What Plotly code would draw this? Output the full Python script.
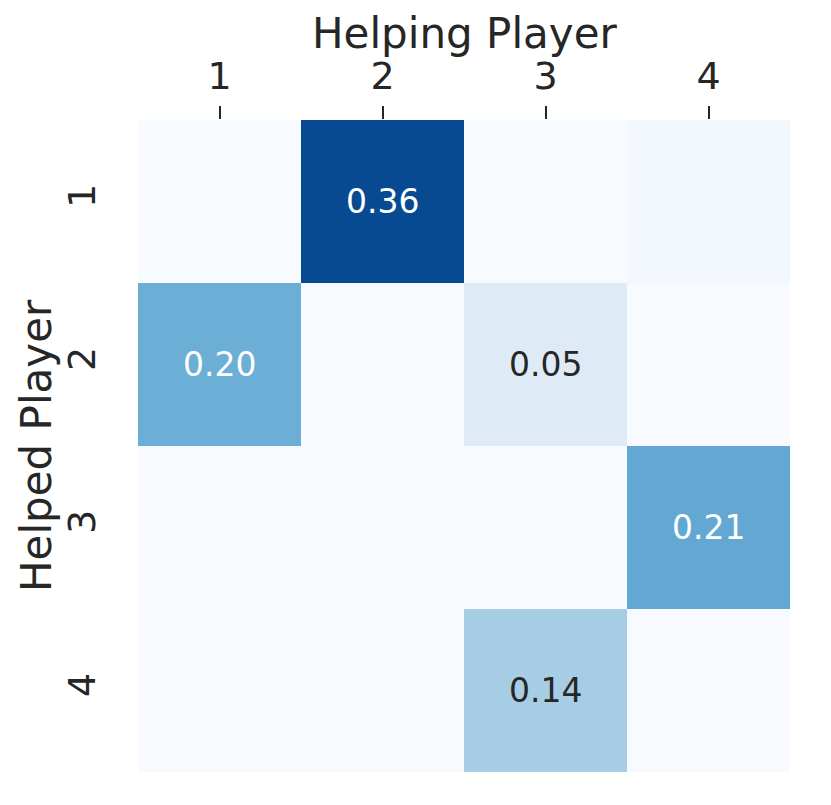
import plotly.graph_objects as go
import plotly.colors as pc

helping = ["1", "2", "3", "4"]
helped = ["1", "2", "3", "4"]
values = [
    [0.00, 0.36, 0.00, 0.01],
    [0.20, 0.00, 0.05, 0.00],
    [0.00, 0.00, 0.00, 0.21],
    [0.00, 0.00, 0.14, 0.00],
]
labels = [
    ["", "0.36", "", ""],
    ["0.20", "", "0.05", ""],
    ["", "", "", "0.21"],
    ["", "", "0.14", ""],
]
vmax = 0.40
x_title = "Helping Player"
y_title = "Helped Player"

fig = go.Figure(go.Heatmap(
    z=values, x=helping, y=helped,
    colorscale=pc.sequential.Blues, zmin=0, zmax=vmax,
    showscale=False, xgap=0, ygap=0, hoverinfo="skip",
))

for i, row in enumerate(values):
    for j, v in enumerate(row):
        if labels[i][j]:
            fig.add_annotation(
                x=j, y=i, text=labels[i][j], showarrow=False,
                font=dict(family="DejaVu Sans", size=33,
                          color="white" if v / vmax > 0.45 else "#262626"),
            )

fig.add_annotation(
    xref="paper", yref="paper", x=0.5, y=1, yanchor="middle", yshift=87,
    text=x_title, showarrow=False, font=dict(size=42),
)
fig.add_annotation(
    xref="paper", yref="paper", x=0, y=0.5, xanchor="center", xshift=-102,
    text=y_title, textangle=-90, showarrow=False, font=dict(size=42),
)

fig.update_layout(
    width=831, height=805, autosize=False,
    margin=dict(l=130, r=49, t=112, b=41, pad=0, autoexpand=False),
    paper_bgcolor="white", plot_bgcolor="white",
    font=dict(family="DejaVu Sans", color="#262626"),
)
fig.update_xaxes(
    type="category", automargin=False, domain=[0, 1],
    side="top", ticks="outside", ticklen=13, tickwidth=2, tickcolor="#262626",
    tickfont=dict(size=38), ticklabelstandoff=2,
    showgrid=False, zeroline=False, showline=False,
)
fig.update_yaxes(
    type="category", automargin=False, domain=[0, 1],
    autorange="reversed", ticks="outside", ticklen=27, tickcolor="rgba(0,0,0,0)",
    tickangle=-90, tickfont=dict(size=38),
    showgrid=False, zeroline=False, showline=False,
)

fig.write_html("out.html")
